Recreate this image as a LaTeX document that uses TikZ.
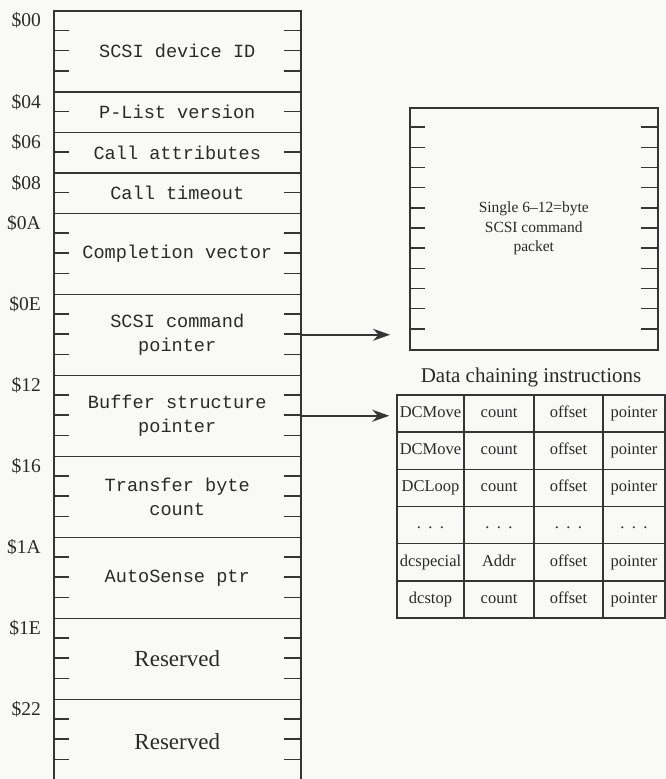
\documentclass[tikz,border=0pt]{standalone}
\usepackage{fontspec}
\setmainfont{Liberation Serif}
\newfontfamily\monof{Liberation Mono}
\usetikzlibrary{arrows.meta}
\definecolor{inkc}{HTML}{353535}
\definecolor{txtc}{HTML}{2A2A2A}
\definecolor{bgc}{HTML}{F9F9F7}
\newcommand\tdots{.\hspace{0.45em}.\hspace{0.45em}.}
\begin{document}
\begin{tikzpicture}[x=1pt,y=-1pt,
  ink/.style={draw=inkc, line width=1.5pt},
  field/.style={draw=inkc, line width=1.5pt, minimum width=247pt, inner sep=0pt,
    text=txtc, font=\monof\fontsize{18.6}{24}\selectfont, align=center, anchor=north west},
  resfield/.style={field, font=\fontsize{23}{26}\selectfont},
  hexlab/.style={anchor=base east, inner sep=0pt, text=txtc, font=\fontsize{19.5}{22}\selectfont},
  pktbox/.style={draw=inkc, line width=1.5pt, minimum width=248pt, minimum height=242pt,
    inner sep=0pt, anchor=north west, align=center, text=txtc,
    font=\fontsize{15.5}{19.5}\selectfont},
  cell/.style={draw=inkc, line width=1.5pt, minimum height=37.17pt, inner sep=0pt,
    text height=11.5pt, text depth=4pt,
    text=txtc, font=\fontsize{16.5}{19}\selectfont},
  arr/.style={draw=inkc, line width=1.5pt, -{Stealth[length=17pt,width=12pt]}}
]
\useasboundingbox (0,0) rectangle (666,779);
\fill[bgc] (0,0) rectangle (666,779);

% parameter block fields
\node[field, minimum height=81pt]   (f00) at (53,10)    {SCSI device ID};
\node[field, minimum height=40.5pt] (f04) at (53,91)    {P-List version};
\node[field, minimum height=40.5pt] (f06) at (53,131.5) {Call attributes};
\node[field, minimum height=40.5pt] (f08) at (53,172)   {Call timeout};
\node[field, minimum height=81pt]   (f0A) at (53,212.5) {Completion vector};
\node[field, minimum height=81pt]   (f0E) at (53,293.5) {SCSI command\\pointer};
\node[field, minimum height=81pt]   (f12) at (53,374.5) {Buffer structure\\pointer};
\node[field, minimum height=81pt]   (f16) at (53,455.5) {Transfer byte\\count};
\node[field, minimum height=81pt]   (f1A) at (53,536.5) {AutoSense ptr};
\node[resfield, minimum height=81pt] (f1E) at (53,617.5) {Reserved};
\node[resfield, minimum height=88pt] (f22) at (53,698.5) {\raisebox{3.5pt}{Reserved}};

% offset labels
\node[hexlab] (l00) at (41,27)    {\$00};
\node[hexlab] (l04) at (41,108)   {\$04};
\node[hexlab] (l06) at (41,148.5) {\$06};
\node[hexlab] (l08) at (41,189)   {\$08};
\node[hexlab] (l0A) at (41,229.5) {\$0A};
\node[hexlab] (l0E) at (41,310.5) {\$0E};
\node[hexlab] (l12) at (41,391.5) {\$12};
\node[hexlab] (l16) at (41,472.5) {\$16};
\node[hexlab] (l1A) at (41,553.5) {\$1A};
\node[hexlab] (l1E) at (41,634.5) {\$1E};
\node[hexlab] (l22) at (41,715.5) {\$22};

% byte ticks
\foreach \b in {1,2,3,5,7,9,11,12,13,15,16,17,19,20,21,23,24,25,27,28,29,31,32,33,35,36,37} {
  \draw[ink] (53,{10+20.25*\b}) -- ++(16,0);
  \draw[ink] (300,{10+20.25*\b}) -- ++(-16,0);
}

% command packet box
\node[pktbox] (pkt) at (409,107) {Single 6–12=byte\\SCSI command\\packet};
\foreach \k in {1,...,11} {
  \draw[ink] (409,{107+20.17*\k}) -- ++(16,0);
  \draw[ink] (657,{107+20.17*\k}) -- ++(-16,0);
}

% data chaining table
\node[text=txtc, font=\fontsize{21}{24}\selectfont, inner sep=0pt] (ttl) at (531,377) {Data chaining instructions};
\foreach \r/\a/\b/\c/\d in {1/DCMove/count/offset/pointer,
                            2/DCMove/count/offset/pointer,
                            3/DCLoop/count/offset/pointer,
                            4/\tdots/\tdots/\tdots/\tdots,
                            5/dcspecial/Addr/offset/pointer,
                            6/dcstop/count/offset/pointer} {
  \node[cell, minimum width=67pt] (c\r-1) at (430.5,{395+37.17*(\r-0.5)}) {\a};
  \node[cell, minimum width=70pt] (c\r-2) at (499,{395+37.17*(\r-0.5)}) {\b};
  \node[cell, minimum width=69pt] (c\r-3) at (568.5,{395+37.17*(\r-0.5)}) {\c};
  \node[cell, minimum width=62pt] (c\r-4) at (634,{395+37.17*(\r-0.5)}) {\d};
}

% pointers
\draw[arr, shorten >=19pt] (f0E.east) -- (f0E.east -| pkt.west);
\draw[arr, shorten >=7pt] (f12.east) -- (f12.east -| c1-1.west);
\end{tikzpicture}
\end{document}
